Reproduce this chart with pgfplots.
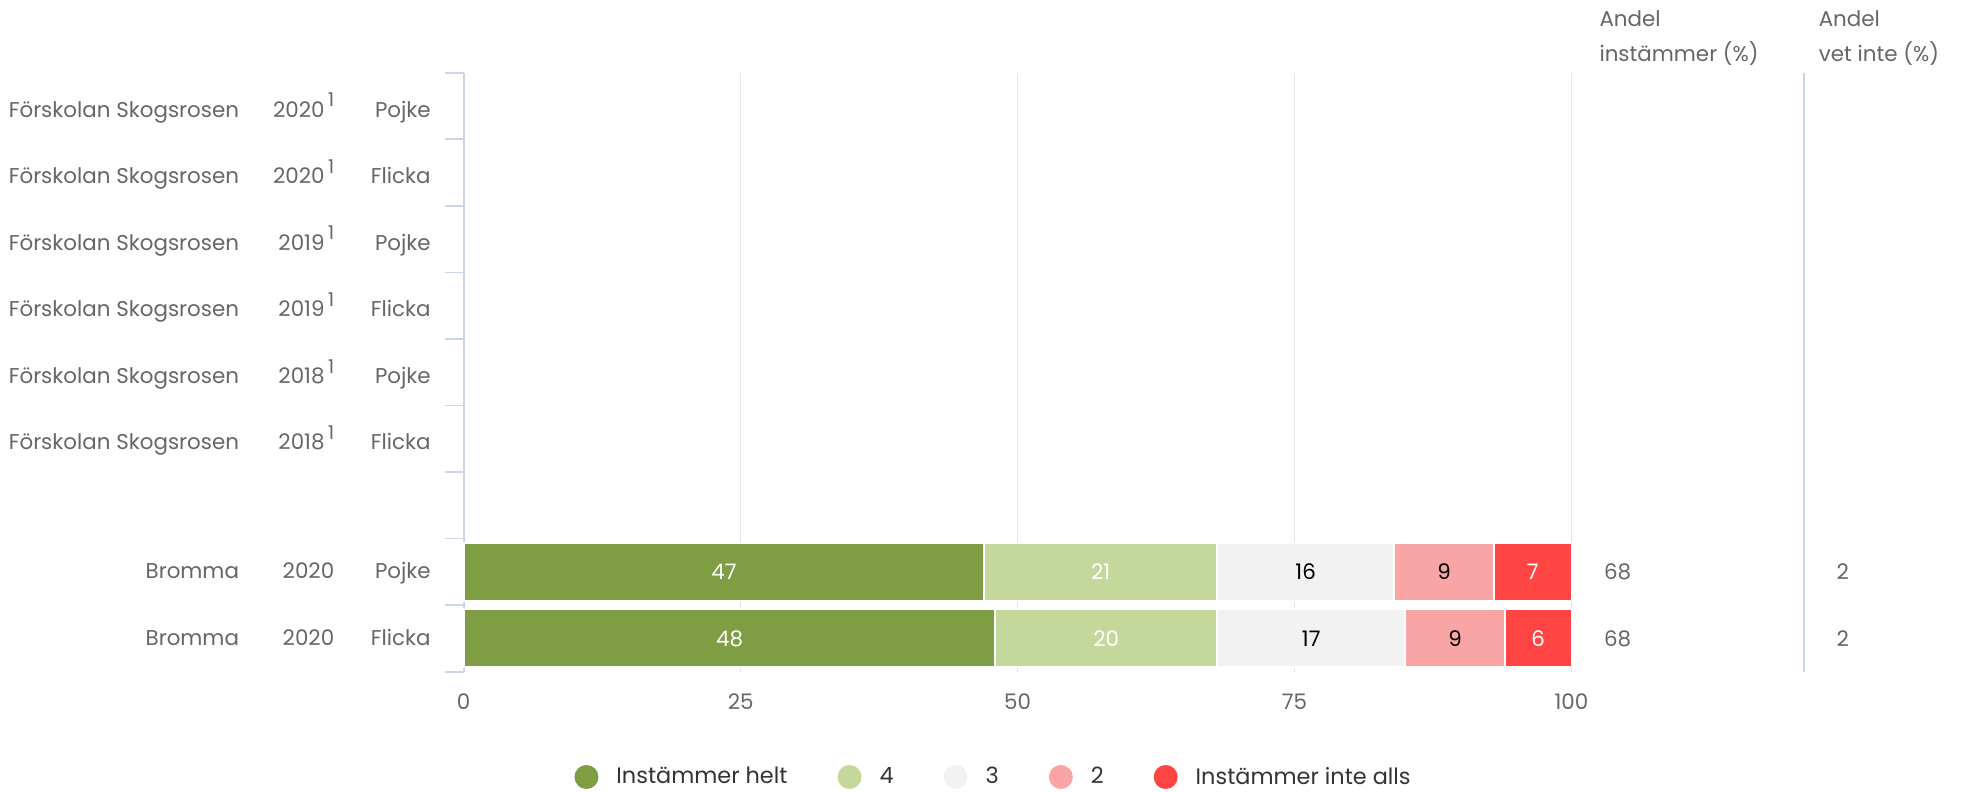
\documentclass[border=0pt]{standalone}
\usepackage{pgfplots}
\pgfplotsset{compat=1.18}
\usepackage{fontspec}
\setmainfont{Poppins}
\definecolor{cA}{HTML}{7F9E43}
\definecolor{cB}{HTML}{C5D89C}
\definecolor{cC}{HTML}{F2F2F2}
\definecolor{cD}{HTML}{FAA5A5}
\definecolor{cE}{HTML}{FF4444}
\definecolor{axc}{HTML}{CCD6EB}
\definecolor{gridc}{HTML}{E6E6E6}
\definecolor{txt}{HTML}{666666}
\definecolor{legtxt}{HTML}{333333}
\newcommand{\fs}{\fontsize{10.7bp}{12.8bp}\selectfont}
\newcommand{\lfs}{\fontsize{11.2bp}{13bp}\selectfont}
\newcommand{\supone}{\,\raisebox{0.48em}{\fontsize{9.5bp}{10bp}\selectfont 1}}
\begin{document}
\begin{tikzpicture}[font=\fs]
\useasboundingbox (-231.85bp,-60.15bp) rectangle (750.65bp,335.85bp);
\begin{axis}[
  at={(0,0)}, anchor=south west,
  scale only axis, width=553.9bp, height=299.5bp,
  xbar stacked, bar width=0.87,
  xmin=0, xmax=100, ymin=-0.5, ymax=8.5,
  clip=false,
  axis lines*=left,
  x axis line style={draw=none},
  y axis line style={draw=axc, line width=0.8bp},
  xtick={0,25,50,75,100},
  xmajorgrids, grid style={gridc, line width=0.8bp},
  x tick style={draw=none},
  xticklabel style={anchor=center, yshift=-5.5bp, text=txt, font=\fs},
  /pgf/number format/assume math mode=true,
  ytick={-0.5,0.5,...,8.5}, yticklabels={},
  y tick style={draw=axc, line width=0.8bp},
  tick align=outside, major tick length=9.5bp,
  legend columns=5,
  legend style={at={(0.4774,-0.1758)}, anchor=center, draw=none, fill=none,
    font=\lfs, text=legtxt, nodes={inner sep=0pt},
    /tikz/every odd column/.append style={column sep=9bp},
    /tikz/every even column/.append style={column sep=25bp}},
  legend cell align=left,
  legend image code/.code={\fill[#1, draw=none] (0bp,0bp) circle (6bp);},
]
\addplot[fill=cA, draw=white, line width=1bp] coordinates {(47,1) (48,0)};
\addplot[fill=cB, draw=white, line width=1bp] coordinates {(21,1) (20,0)};
\addplot[fill=cC, draw=white, line width=1bp] coordinates {(16,1) (17,0)};
\addplot[fill=cD, draw=white, line width=1bp] coordinates {(9,1) (9,0)};
\addplot[fill=cE, draw=white, line width=1bp] coordinates {(7,1) (6,0)};
\legend{Instämmer helt, 4, 3, 2, Instämmer inte alls}
\draw[axc, line width=0.8bp] (axis cs:121,-0.5) -- (axis cs:121,8.5);
\end{axis}
\begin{axis}[
  at={(0,0)}, anchor=south west,
  scale only axis, width=553.9bp, height=299.5bp,
  xmin=0, xmax=100, ymin=-0.5, ymax=8.5,
  hide axis, clip=false,
  nodes near coords, point meta=explicit symbolic,
  nodes near coords style={anchor=center, font=\fs, inner sep=0pt},
]
\addplot[draw=none, mark=none, nodes near coords style={text=white}] coordinates {(23.5,1) [47] (24,0) [48]};
\addplot[draw=none, mark=none, nodes near coords style={text=white}] coordinates {(57.5,1) [21] (58,0) [20]};
\addplot[draw=none, mark=none, nodes near coords style={text=black}] coordinates {(76,1) [16] (76.5,0) [17]};
\addplot[draw=none, mark=none, nodes near coords style={text=black}] coordinates {(88.5,1) [9] (89.5,0) [9]};
\addplot[draw=none, mark=none, nodes near coords style={text=white}] coordinates {(96.5,1) [7] (97,0) [6]};
\addplot[draw=none, mark=none, nodes near coords style={text=txt, anchor=west}] coordinates {(102.9,1) [68] (102.9,0) [68]};
\addplot[draw=none, mark=none, nodes near coords style={text=txt, anchor=west}] coordinates {(123.9,1) [2] (123.9,0) [2]};
\end{axis}
\begin{scope}[every node/.style={inner sep=0pt, text=txt, font=\fs}]
\foreach \i/\o/\a/\b/\c in {8/5.6/Förskolan Skogsrosen/2020\supone/Pojke, 7/5.6/Förskolan Skogsrosen/2020\supone/Flicka, 6/5.6/Förskolan Skogsrosen/2019\supone/Pojke, 5/5.6/Förskolan Skogsrosen/2019\supone/Flicka, 4/5.6/Förskolan Skogsrosen/2018\supone/Pojke, 3/5.6/Förskolan Skogsrosen/2018\supone/Flicka, 1/3.3/Bromma/2020/Pojke, 0/3.3/Bromma/2020/Flicka}{
  \pgfmathsetmacro{\yy}{(\i+0.5)*33.28-\o}
  \node[anchor=base east] at (-112.15bp,\yy bp) {\a};
  \node[anchor=base east] at (-64.55bp,\yy bp) {\b};
  \node[anchor=base east] at (-16.3bp,\yy bp) {\c};
}
\node[anchor=base west] at (567.7bp,322.75bp) {Andel};
\node[anchor=base west] at (567.7bp,305.2bp) {instämmer (\%)};
\node[anchor=base west] at (677.35bp,322.75bp) {Andel};
\node[anchor=base west] at (677.35bp,305.2bp) {vet inte (\%)};
\end{scope}
\end{tikzpicture}
\end{document}
